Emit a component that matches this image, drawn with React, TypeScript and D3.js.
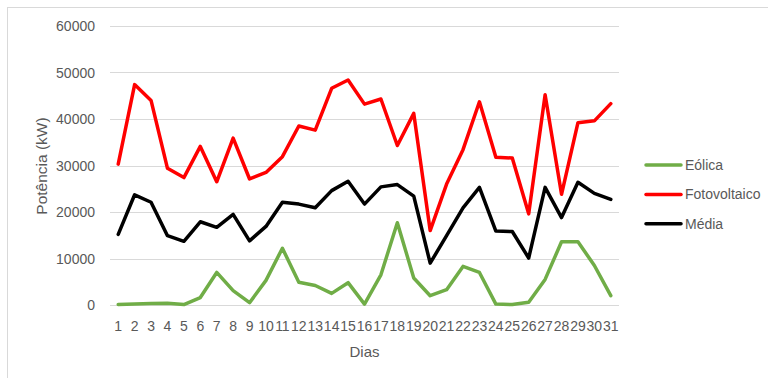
import React, { useEffect, useRef } from 'react';
import * as d3 from 'd3';

const dias = d3.range(1, 32).map(String);

const eolica = [
  100, 200, 300, 400, 100, 1600, 7000, 3100, 500, 5300, 12200, 4900, 4200, 2500,
  4800, 200, 6500, 17700, 5800, 2000, 3300, 8300, 7000, 200, 100, 600, 5500,
  13600, 13600, 8500, 2000,
];

const fotovoltaico = [
  30300, 47400, 44000, 29400, 27400, 34100, 26500, 35900, 27100, 28500, 31900,
  38500, 37600, 46600, 48400, 43200, 44300, 34300, 41200, 16000, 26000, 33400,
  43700, 31800, 31600, 19600, 45200, 23800, 39200, 39600, 43300,
];

const media = [
  15200, 23700, 22100, 14900, 13700, 17900, 16700, 19500, 13800, 16900, 22100,
  21700, 20900, 24600, 26600, 21700, 25400, 25900, 23400, 9000, 14900, 20900,
  25300, 15900, 15800, 10100, 25300, 18800, 26400, 24000, 22700,
];

const yTicks = [0, 10000, 20000, 30000, 40000, 50000, 60000];

const series = [
  { name: 'Eólica', values: eolica, color: '#70AD47' },
  { name: 'Fotovoltaico', values: fotovoltaico, color: '#FF0000' },
  { name: 'Média', values: media, color: '#000000' },
];

export default function App() {
  const ref = useRef<SVGSVGElement>(null);

  useEffect(() => {
    const width = 768;
    const height = 378;
    const margin = { top: 26, bottom: 73, left: 110, right: 149 };
    const font = '"Liberation Sans", Arial, sans-serif';
    const textColor = '#595959';

    const svg = d3.select(ref.current);
    svg.selectAll('*').remove();

    // chart border
    svg
      .append('rect')
      .attr('x', 7.5)
      .attr('y', 7.5)
      .attr('width', width + 20)
      .attr('height', height + 20)
      .attr('fill', '#fff')
      .attr('stroke', '#D9D9D9');

    const xScale = d3
      .scaleBand()
      .domain(dias)
      .range([margin.left, width - margin.right]);

    const yScale = d3
      .scaleLinear()
      .domain([0, 60000])
      .range([height - margin.bottom, margin.top]);

    const xPos = (i: number) =>
      (xScale(dias[i]) as number) + xScale.bandwidth() / 2;

    // gridlines
    svg
      .append('g')
      .selectAll('line')
      .data(yTicks)
      .enter()
      .append('line')
      .attr('x1', margin.left)
      .attr('x2', width - margin.right)
      .attr('y1', (d) => Math.round(yScale(d)) + 0.5)
      .attr('y2', (d) => Math.round(yScale(d)) + 0.5)
      .attr('stroke', '#D9D9D9')
      .attr('stroke-width', 1);

    // y tick labels
    svg
      .append('g')
      .selectAll('text')
      .data(yTicks)
      .enter()
      .append('text')
      .attr('x', 95)
      .attr('y', (d) => yScale(d) + 5)
      .attr('text-anchor', 'end')
      .attr('font-family', font)
      .attr('font-size', 14)
      .attr('fill', textColor)
      .text((d) => String(d));

    // x tick labels
    svg
      .append('g')
      .selectAll('text')
      .data(dias)
      .enter()
      .append('text')
      .attr('x', (d) => (xScale(d) as number) + xScale.bandwidth() / 2)
      .attr('y', 331)
      .attr('text-anchor', 'middle')
      .attr('font-family', font)
      .attr('font-size', 14)
      .attr('fill', textColor)
      .text((d) => d);

    // axis titles
    svg
      .append('text')
      .attr('x', (margin.left + width - margin.right) / 2)
      .attr('y', 357)
      .attr('text-anchor', 'middle')
      .attr('font-family', font)
      .attr('font-size', 15)
      .attr('fill', textColor)
      .text('Dias');

    svg
      .append('text')
      .attr('transform', `translate(47, 166) rotate(-90)`)
      .attr('text-anchor', 'middle')
      .attr('font-family', font)
      .attr('font-size', 15.5)
      .attr('fill', textColor)
      .text('Potência (kW)');

    const line = d3
      .line<number>()
      .x((d, i) => xPos(i))
      .y((d) => yScale(d));

    svg
      .append('g')
      .selectAll('path')
      .data(series)
      .enter()
      .append('path')
      .attr('d', (s) => line(s.values) as string)
      .attr('fill', 'none')
      .attr('stroke', (s) => s.color)
      .attr('stroke-width', 3.5)
      .attr('stroke-linejoin', 'round')
      .attr('stroke-linecap', 'round');

    // legend
    const legend = svg
      .append('g')
      .selectAll('g')
      .data(series)
      .enter()
      .append('g')
      .attr('transform', (d, i) => `translate(646, ${165 + i * 29.4})`);

    legend
      .append('line')
      .attr('x1', 0)
      .attr('x2', 35)
      .attr('stroke', (d) => d.color)
      .attr('stroke-width', 3.5)
      .attr('stroke-linecap', 'round');

    legend
      .append('text')
      .attr('x', 39)
      .attr('y', 5)
      .attr('font-family', font)
      .attr('font-size', 14)
      .attr('fill', textColor)
      .text((d) => d.name);
  }, []);

  return (
    <svg
      ref={ref}
      width={768}
      height={378}
      style={{ position: 'absolute', left: 0, top: 0, background: '#fff' }}
    />
  );
}
